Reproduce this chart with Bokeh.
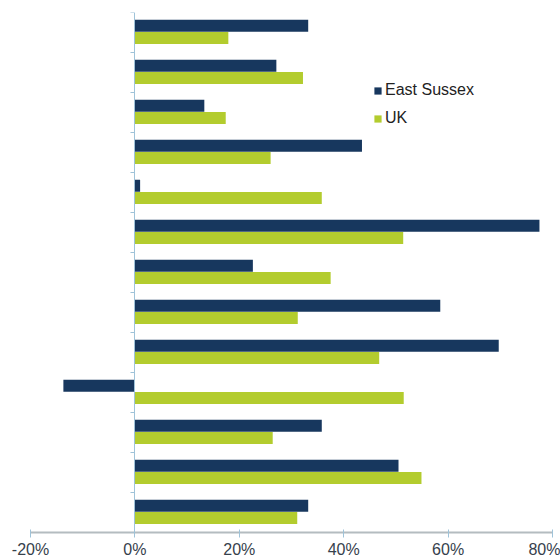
from bokeh.plotting import figure
from bokeh.models import ColumnDataSource, Range1d, FixedTicker, Legend, LegendItem, CustomJSTickFormatter
from bokeh.embed import file_html
from bokeh.resources import INLINE

# Data (categories top to bottom; names not visible in the reference)
categories = ["1", "2", "3", "4", "5", "6", "7", "8", "9", "10", "11", "12", "13"]
east_sussex = [33.2, 27.1, 13.3, 43.5, 1.0, 77.5, 22.6, 58.5, 69.7, -13.7, 35.8, 50.5, 33.2]
uk = [17.9, 32.2, 17.4, 26.0, 35.8, 51.4, 37.5, 31.2, 46.8, 51.5, 26.4, 54.9, 31.1]
x_ticks = [-20, 0, 20, 40, 60, 80]

n = len(categories)
ypos = [n - i - 0.5 for i in range(n)]

src = ColumnDataSource(dict(
    y_es=[y + 0.17 for y in ypos],
    y_uk=[y - 0.14 for y in ypos],
    es=east_sussex, uk=uk, cat=categories,
))

p = figure(width=560, height=560, output_backend="svg", toolbar_location=None,
           x_range=Range1d(-20, 80), y_range=Range1d(0, n),
           min_border_left=30, min_border_right=8, min_border_top=12, min_border_bottom=28)
p.outline_line_color = None
p.xgrid.visible = False
p.ygrid.visible = False
p.background_fill_color = "white"
p.border_fill_color = "white"

es_color = "#17375e"
uk_color = "#b3cc2e"

r_es = p.hbar(y="y_es", left=0, right="es", height=0.3, source=src,
              fill_color=es_color, line_color=None)
r_uk = p.hbar(y="y_uk", left=0, right="uk", height=0.3, source=src,
              fill_color=uk_color, line_color=None)

# x axis
xa = p.xaxis[0]
xa.ticker = FixedTicker(ticks=x_ticks)
xa.formatter = CustomJSTickFormatter(code="return tick + '%';")
xa.axis_line_color = "#b4bcc0"
xa.axis_line_width = 2
xa.major_tick_line_color = "#9fc3d9"
xa.major_tick_in = 3
xa.major_tick_out = 5
xa.minor_tick_line_color = None
xa.major_label_text_font = "Liberation Sans"
xa.major_label_text_font_size = "16px"
xa.major_label_text_color = "#36414c"
xa.major_label_standoff = 3

# y axis at x = 0 with ticks on category boundaries
ya = p.yaxis[0]
ya.fixed_location = 0
ya.ticker = FixedTicker(ticks=list(range(0, n + 1)))
ya.axis_line_color = "#9fc3d9"
ya.major_tick_line_color = "#9fc3d9"
ya.major_tick_in = 0
ya.major_tick_out = 4
ya.minor_tick_line_color = None
ya.major_label_text_color = None

legend = Legend(items=[LegendItem(label="East Sussex", renderers=[r_es]),
                       LegendItem(label="UK", renderers=[r_uk])],
                location=(343, 404))
legend.background_fill_alpha = 0
legend.border_line_color = None
legend.padding = 0
legend.margin = 0
legend.glyph_width = 9
legend.glyph_height = 9
legend.label_standoff = 3
legend.label_height = 20
legend.spacing = 8
legend.label_text_font = "Liberation Sans"
legend.label_text_font_size = "16px"
legend.label_text_color = "#222222"
p.add_layout(legend, "center")

open("out.html", "w").write(file_html(p, INLINE))
